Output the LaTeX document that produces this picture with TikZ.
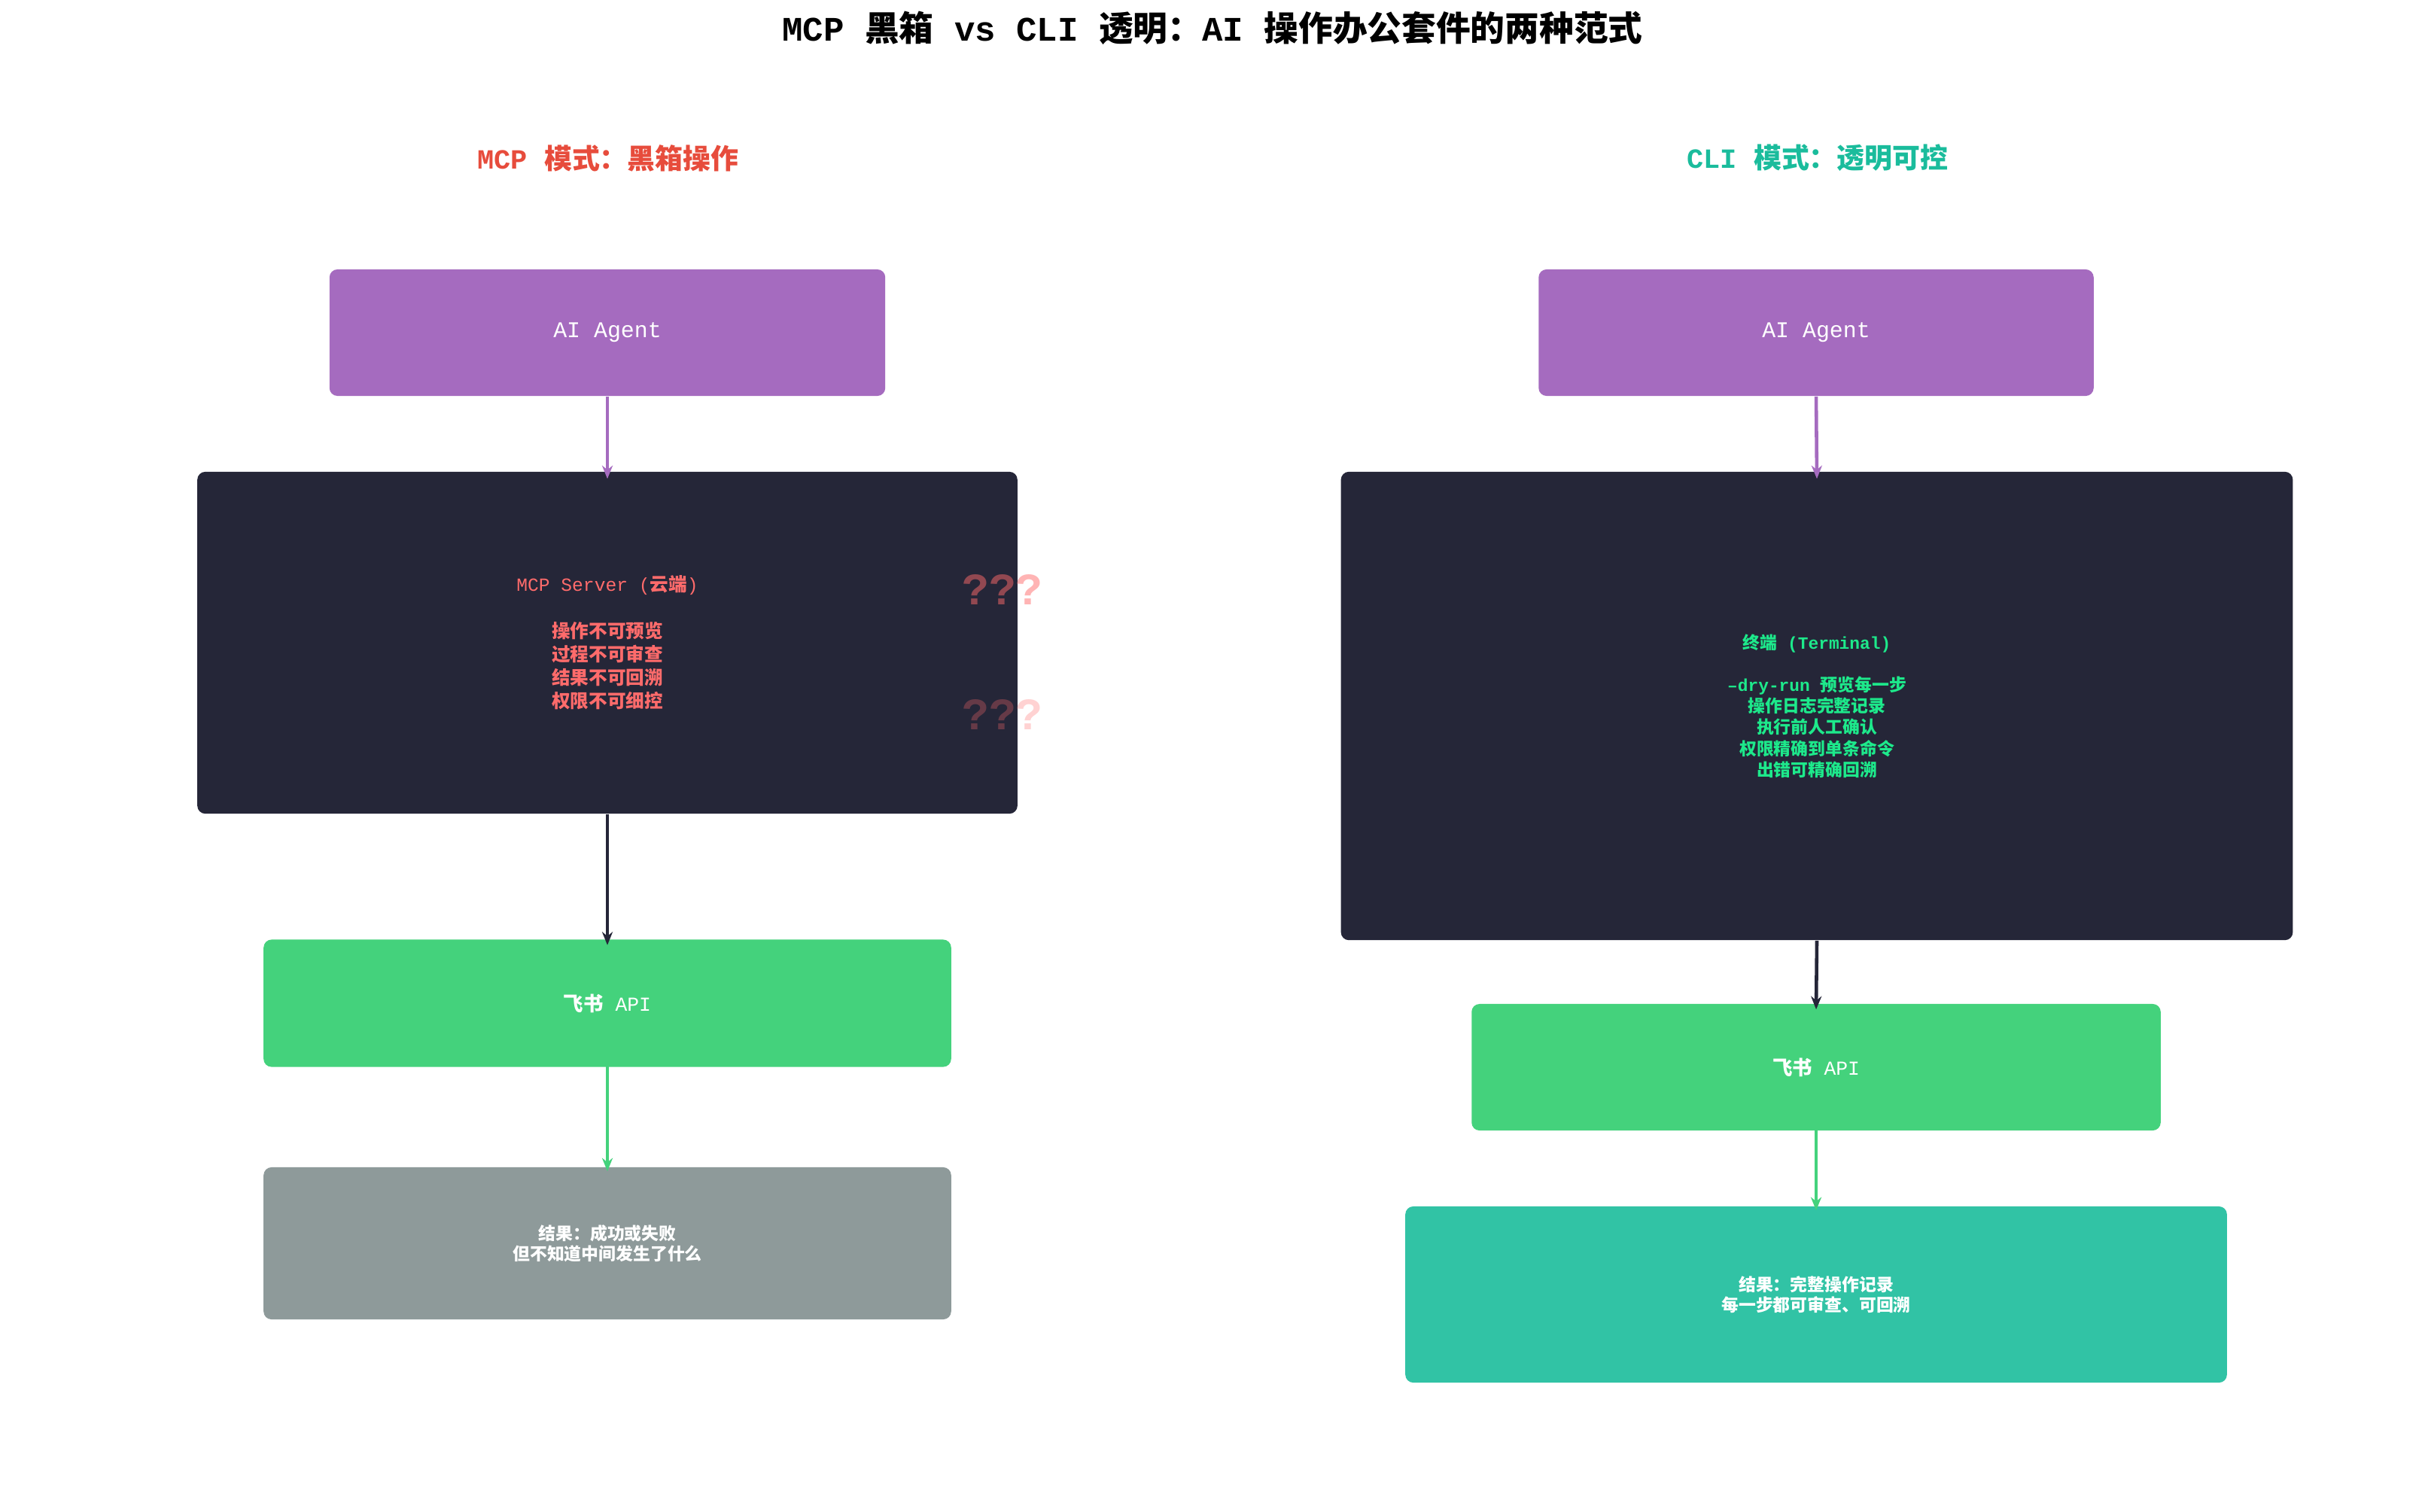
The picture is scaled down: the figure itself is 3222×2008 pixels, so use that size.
\documentclass[tikz,border=0pt]{standalone}
\usepackage{fontspec}
\setmainfont{Liberation Mono}
\newfontfamily\cjk{Noto Sans CJK SC}
\newcommand{\C}[1]{{\cjk\bfseries #1}}
\usetikzlibrary{arrows.meta}
\definecolor{agentc}{HTML}{A56BBF}
\definecolor{darkc}{HTML}{252638}
\definecolor{greenc}{HTML}{44D27C}
\definecolor{grayc}{HTML}{8E9A9A}
\definecolor{tealc}{HTML}{31C3A5}
\definecolor{redh}{HTML}{E74C3C}
\definecolor{tealh}{HTML}{1ABC9C}
\definecolor{srvtxt}{HTML}{FF6B6B}
\definecolor{termtxt}{HTML}{1DE98B}
\begin{document}
\begin{tikzpicture}[x=0.01cm,y=0.01cm,
  box/.style={rounded corners=3pt,inner sep=0pt,align=center},
  arr/.style={line width=1.3pt,-{Stealth[length=5pt,width=4pt]}},
  q/.style={text=srvtxt,font=\bfseries\fontsize{17}{17}\selectfont}]
\useasboundingbox[fill=white] (0,0) rectangle (3222,-2008);
\node[font=\bfseries\fontsize{13}{15}\selectfont] (title) at (1611,-37) {MCP \C{黑箱} vs CLI \C{透明：}AI \C{操作办公套件的两种范式}};
\node[text=redh,font=\bfseries\fontsize{10.5}{12}\selectfont] (hl) at (808,-210) {MCP \C{模式：黑箱操作}};
\node[text=tealh,font=\bfseries\fontsize{10.5}{12}\selectfont] (hr) at (2415,-210) {CLI \C{模式：透明可控}};
% left
\node[box,fill=agentc,text=white,minimum width=7.38cm,minimum height=1.68cm,font=\fontsize{8.5}{10}\selectfont] (aL) at (807,-442) {AI Agent};
\node[box,fill=darkc,text=srvtxt,minimum width=10.89cm,minimum height=4.54cm,font=\fontsize{7}{8.8}\selectfont] (sL) at (807,-854) {MCP Server (\C{云端})\\[8.8pt]\C{操作不可预览}\\\C{过程不可审查}\\\C{结果不可回溯}\\\C{权限不可细控}};
\node[q,opacity=0.5] (q1) at (1332,-783) {???};
\node[q,opacity=0.3] (q2) at (1332,-949) {???};
\node[box,fill=greenc,text=white,minimum width=9.13cm,minimum height=1.69cm,font=\fontsize{7.5}{9}\selectfont] (fL) at (807,-1333) {\C{飞书} API};
\node[box,fill=grayc,text=white,minimum width=9.13cm,minimum height=2.02cm,font=\fontsize{6.5}{7.8}\selectfont] (rL) at (807,-1652) {\C{结果：成功或失败}\\\C{但不知道中间发生了什么}};
\draw[arr,agentc] (aL.south) -- ([yshift=-0.1cm]sL.north);
\draw[arr,darkc] (sL.south) -- ([yshift=-0.08cm]fL.north);
\draw[arr,greenc] ([yshift=0.08cm]fL.south) -- ([yshift=-0.06cm]rL.north);
% right
\node[box,fill=agentc,text=white,minimum width=7.37cm,minimum height=1.68cm,font=\fontsize{8.5}{10}\selectfont] (aR) at (2413,-442) {AI Agent};
\node[box,fill=darkc,text=termtxt,minimum width=12.64cm,minimum height=6.22cm,font=\bfseries\fontsize{6.5}{8}\selectfont] (sR) at (2414,-938) {\C{终端} (Terminal)\\[8pt]--dry-run \C{预览每一步}\\\C{操作日志完整记录}\\\C{执行前人工确认}\\\C{权限精确到单条命令}\\\C{出错可精确回溯}};
\node[box,fill=greenc,text=white,minimum width=9.15cm,minimum height=1.68cm,font=\fontsize{7.5}{9}\selectfont] (fR) at (2413,-1418) {\C{飞书} API};
\node[box,fill=tealc,text=white,minimum width=10.91cm,minimum height=2.34cm,font=\fontsize{6.5}{7.8}\selectfont] (rR) at (2413,-1720) {\C{结果：完整操作记录}\\\C{每一步都可审查、可回溯}};
\draw[arr,agentc] (aR.south) -- ([yshift=-0.1cm]sR.north);
\draw[arr,darkc] (sR.south) -- ([yshift=-0.08cm]fR.north);
\draw[arr,greenc] ([yshift=0.08cm]fR.south) -- ([yshift=-0.06cm]rR.north);
\end{tikzpicture}
\end{document}
